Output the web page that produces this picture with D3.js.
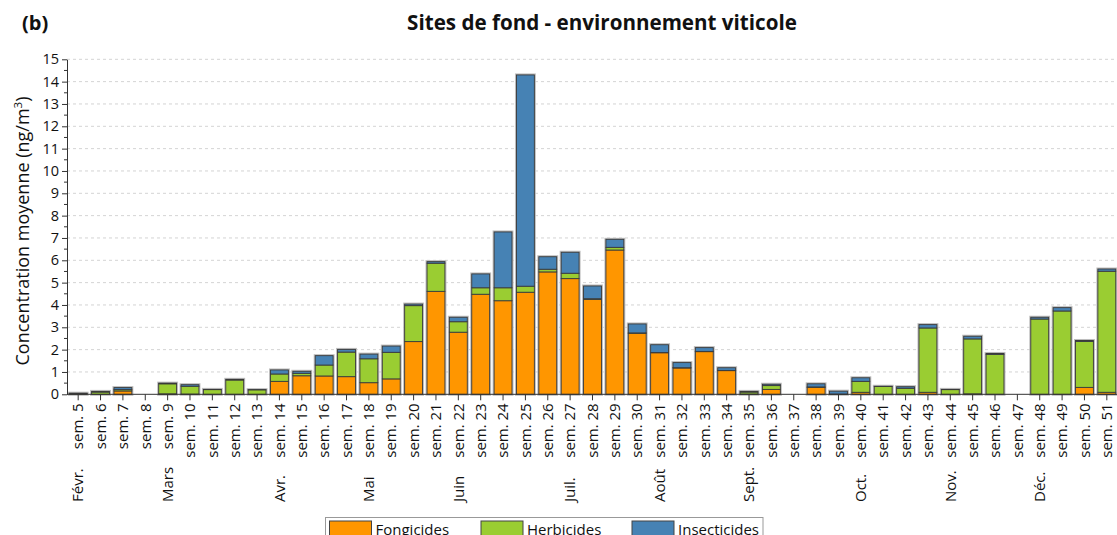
<!DOCTYPE html>
<html>
<head>
<meta charset="utf-8">
<script src="https://cdn.jsdelivr.net/npm/d3@7"></script>
<style>
  body { margin: 0; background: #fff; }
  svg text { font-family: "Open Sans", Lato, sans-serif; fill: #111; }
</style>
</head>
<body>
<div id="chart"></div>
<script>
// ---------------------------------------------------------------------------//
// Data (ng/m3 per week)
// ---------------------------------------------------------------------------//
const weeks = [5, 6, 7, 8, 9, 10, 11, 12, 13, 14, 15, 16, 17, 18, 19, 20, 21, 22, 23, 24,
  25, 26, 27, 28, 29, 30, 31, 32, 33, 34, 35, 36, 37, 38, 39, 40, 41, 42, 43, 44,
  45, 46, 47, 48, 49, 50, 51];

const fongicides = [0, 0, 0.15, 0, 0.02, 0.01, 0, 0, 0,
  0.58, 0.83, 0.82, 0.79, 0.52, 0.69, 2.36, 4.61, 2.78, 4.48, 4.19, 4.57, 5.48, 5.18,
  4.25, 6.46, 2.73, 1.86, 1.18, 1.91, 1.06,
  0.01, 0.22, 0, 0.31, 0, 0.09, 0, 0, 0.09, 0, 0.02, 0, 0, 0, 0, 0.31, 0.09];

const herbicides = [0.03, 0.1, 0.06, 0, 0.45, 0.35, 0.21, 0.64, 0.2,
  0.33, 0.11, 0.49, 1.1, 1.07, 1.19, 1.61, 1.26, 0.47, 0.29, 0.58, 0.27, 0.12, 0.24,
  0.03, 0.12, 0.02, 0.01, 0.01, 0.01, 0.01,
  0.09, 0.17, 0, 0.02, 0.01, 0.49, 0.35, 0.27, 2.88, 0.21, 2.46, 1.79, 0, 3.37, 3.73, 2.06, 5.42];

const insecticides = [0.02, 0.03, 0.09, 0, 0.03, 0.07, 0.01, 0.03, 0.01,
  0.18, 0.09, 0.42, 0.12, 0.21, 0.28, 0.07, 0.07, 0.2, 0.62, 2.5, 9.46, 0.56, 0.94,
  0.57, 0.36, 0.4, 0.35, 0.23, 0.17, 0.12,
  0.03, 0.06, 0, 0.14, 0.13, 0.16, 0.01, 0.07, 0.15, 0.01, 0.12, 0.04, 0, 0.08, 0.15, 0.04, 0.1];

const monthLabels = ["Févr.", "Mars", "Avr.", "Mai", "Juin", "Juil.", "Août", "Sept.", "Oct.", "Nov.", "Déc."];
const monthWeeks = [5, 9, 14, 18, 22, 27, 31, 35, 40, 44, 48];

const seriesNames = ["Fongicides", "Herbicides", "Insecticides"];
const seriesColors = ["#ff9600", "#9acd32", "#4682b4"];

const yTicks = [0, 1, 2, 3, 4, 5, 6, 7, 8, 9, 10, 11, 12, 13, 14, 15];

// ---------------------------------------------------------------------------//
// Layout
// ---------------------------------------------------------------------------//
const width = 1117;
const height = 535;
const plot = { left: 67, right: 1118, top: 59.3, bottom: 394.3 };

const rows = weeks.map((w, i) => ({
  week: w,
  Fongicides: fongicides[i],
  Herbicides: herbicides[i],
  Insecticides: insecticides[i],
}));
const total = (d) => d.Fongicides + d.Herbicides + d.Insecticides;

const svg = d3.select("#chart")
  .append("svg")
  .attr("width", width)
  .attr("height", height);

svg.append("rect").attr("width", width).attr("height", height).attr("fill", "#fff");

const x = d3.scaleBand()
  .domain(weeks)
  .range([plot.left, plot.right])
  .paddingInner(0.2)
  .paddingOuter(0.1);

const y = d3.scaleLinear()
  .domain([0, 15])
  .range([plot.bottom, plot.top]);

// gridlines
svg.append("g")
  .selectAll("line")
  .data(yTicks.filter((d) => d > 0))
  .join("line")
  .attr("x1", plot.left)
  .attr("x2", width)
  .attr("y1", (d) => y(d))
  .attr("y2", (d) => y(d))
  .attr("stroke", "#d4d4d4")
  .attr("stroke-width", 1)
  .attr("stroke-dasharray", "3,3");

// ---------------------------------------------------------------------------//
// Bars
// ---------------------------------------------------------------------------//
const stacked = d3.stack().keys(seriesNames)(rows);

// light halo round each full bar
svg.append("g")
  .selectAll("rect")
  .data(rows.filter((d) => total(d) > 0))
  .join("rect")
  .attr("x", (d) => x(d.week))
  .attr("width", x.bandwidth())
  .attr("y", (d) => y(total(d)))
  .attr("height", (d) => y(0) - y(total(d)))
  .attr("fill", "none")
  .attr("stroke", "#bdbdbd")
  .attr("stroke-width", 3);

svg.append("g")
  .selectAll("g")
  .data(stacked)
  .join("g")
  .attr("fill", (d, i) => seriesColors[i])
  .selectAll("rect")
  .data((d) => d.filter((s) => s[1] - s[0] > 0))
  .join("rect")
  .attr("x", (d) => x(d.data.week))
  .attr("width", x.bandwidth())
  .attr("y", (d) => y(d[1]))
  .attr("height", (d) => y(d[0]) - y(d[1]))
  .attr("stroke", "#3a3a3a")
  .attr("stroke-width", 0.9);

// ---------------------------------------------------------------------------//
// Axes
// ---------------------------------------------------------------------------//
const yAxis = svg.append("g")
  .attr("transform", `translate(${plot.left},0)`)
  .call(d3.axisLeft(y).tickValues(yTicks).tickSize(5).tickPadding(3).tickSizeOuter(0));
yAxis.select(".domain").attr("stroke", "#333");
yAxis.selectAll(".tick line").attr("stroke", "#333");
yAxis.selectAll("text").style("font-size", "14.5px").attr("fill", "#111");

// minor ticks at half units
svg.append("g")
  .selectAll("line")
  .data(yTicks.slice(0, -1).map((d) => d + 0.5))
  .join("line")
  .attr("x1", plot.left - 3)
  .attr("x2", plot.left)
  .attr("y1", (d) => y(d))
  .attr("y2", (d) => y(d))
  .attr("stroke", "#333");

const xAxis = svg.append("g")
  .attr("transform", `translate(0,${plot.bottom})`)
  .call(d3.axisBottom(x).tickSize(6).tickSizeOuter(0).tickFormat((d) => `sem. ${d}`));
xAxis.select(".domain").attr("stroke", "#333").attr("d", `M${plot.left},0H${width}`);
xAxis.selectAll(".tick line").attr("stroke", "#333");
xAxis.selectAll("text")
  .style("font-size", "15px")
  .attr("fill", "#111")
  .attr("transform", "rotate(-90)")
  .attr("text-anchor", "end")
  .attr("x", -9)
  .attr("y", 0)
  .attr("dy", "0.35em");

// month labels
svg.append("g")
  .selectAll("text")
  .data(monthLabels)
  .join("text")
  .attr("transform", (d, i) => `translate(${x(monthWeeks[i]) + x.bandwidth() / 2},502) rotate(-90)`)
  .attr("dy", "0.35em")
  .attr("text-anchor", "start")
  .style("font-size", "15px")
  .text((d) => d);

// axis title
svg.append("text")
  .attr("transform", "translate(23,231) rotate(-90)")
  .attr("text-anchor", "middle")
  .attr("dy", "0.35em")
  .style("font-size", "18px")
  .html("Concentration moyenne (ng/m<tspan dy='-7' font-size='11.5px'>3</tspan><tspan dy='7'>)</tspan>");

// titles
svg.append("text")
  .attr("x", 602)
  .attr("y", 30)
  .attr("text-anchor", "middle")
  .style("font-size", "20.6px")
  .style("font-weight", "bold")
  .text("Sites de fond - environnement viticole");

svg.append("text")
  .attr("x", 22)
  .attr("y", 30)
  .style("font-size", "20px")
  .style("font-weight", "bold")
  .text("(b)");

// ---------------------------------------------------------------------------//
// Legend
// ---------------------------------------------------------------------------//
const legend = svg.append("g");
legend.append("rect")
  .attr("x", 325.5)
  .attr("y", 517.5)
  .attr("width", 437.5)
  .attr("height", 30)
  .attr("fill", "#fff")
  .attr("stroke", "#999");

const legendX = [329.5, 481, 632];
const legendItem = legend.selectAll("g.item")
  .data(seriesNames)
  .join("g")
  .attr("class", "item")
  .attr("transform", (d, i) => `translate(${legendX[i]},521)`);
legendItem.append("rect")
  .attr("width", 42)
  .attr("height", 24)
  .attr("fill", (d, i) => seriesColors[i])
  .attr("stroke", "#444");
legendItem.append("text")
  .attr("x", 46)
  .attr("y", 13.5)
  .style("font-size", "15px")
  .text((d) => d);
</script>
</body>
</html>
